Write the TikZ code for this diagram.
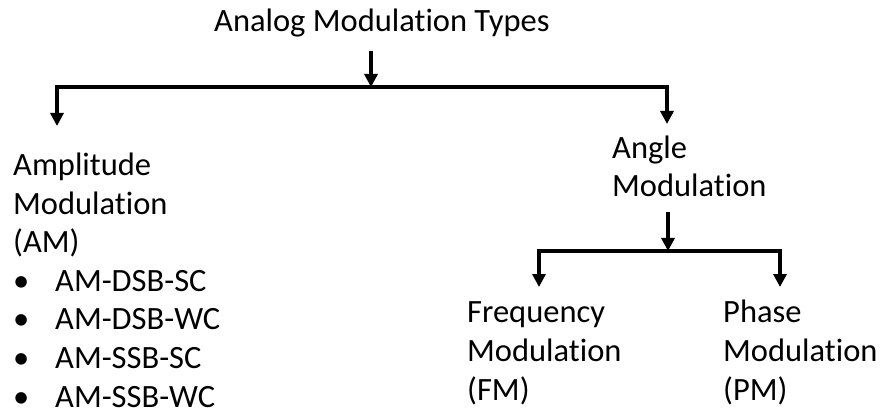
\documentclass[tikz,border=0pt]{standalone}
\usepackage{fontspec}
\setmainfont{Carlito}[Ligatures=NoCommon]
\usetikzlibrary{arrows.meta}

\begin{document}
\begin{tikzpicture}[x=1pt,y=-1pt,
  modtext/.style={inner sep=0pt,anchor=base west,align=left,font=\fontsize{32.5}{38.6}\selectfont},
  conn/.style={line width=4pt,-{Triangle[length=13pt,width=13pt]}}]
 \useasboundingbox (0,0) rectangle (881,414);
 % texts (base = last line)
 \node[modtext] (title) at (214,32) {Analog Modulation Types};
 \node[modtext] (am) at (13,407) {Amplitude\\Modulation\\(AM)\\
   \makebox[42pt][l]{\textbullet}AM-DSB-SC\\\makebox[42pt][l]{\textbullet}AM-DSB-WC\\
   \makebox[42pt][l]{\textbullet}AM-SSB-SC\\\makebox[42pt][l]{\textbullet}AM-SSB-WC};
 \node[modtext] (angle) at (612,197) {Angle\\Modulation};
 \node[modtext] (fm) at (467,400) {Frequency\\Modulation\\(FM)};
 \node[modtext] (pm) at (723,400) {Phase\\Modulation\\(PM)};
 % first level
 \coordinate (in1) at (371,51);\coordinate (split1) at (371,87);
 \coordinate (amtip) at (57,126);\coordinate (angletip) at (667,124);
 \draw[conn] (in1) -- (split1);
 \draw[conn] (split1) -| (amtip);
 \draw[conn] (split1) -| (angletip);
 % second level
 \coordinate (in2) at (668,212);\coordinate (split2) at (668,251);
 \coordinate (fmtip) at (539,287);\coordinate (pmtip) at (780,287);
 \draw[conn] (in2) -- (split2);
 \draw[conn] (split2) -| (fmtip);
 \draw[conn] (split2) -| (pmtip);
\end{tikzpicture}
\end{document}
